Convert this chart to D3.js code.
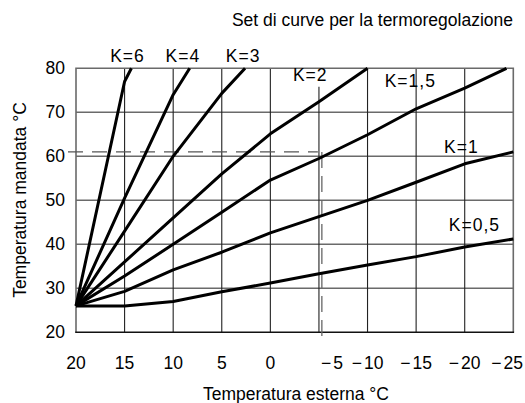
<!DOCTYPE html>
<html><head><meta charset="utf-8">
<script src="https://cdn.jsdelivr.net/npm/d3@7"></script>
<style>body{margin:0;background:#fff}svg{display:block;font-family:"Liberation Sans",Arial,sans-serif}</style>
</head><body><svg id="c" width="525" height="403"></svg>
<script>
// Data
const xTicks = [20, 15, 10, 5, 0, -5, -10, -15, -20, -25];
const yTicks = [20, 30, 40, 50, 60, 70, 80];
const curveK = ["K=0,5", "K=1", "K=1,5", "K=2", "K=3", "K=4", "K=6"];
const k05 = [[20,26],[15,26],[10,27],[5,29.2],[0,31.2],[-5,33.3],[-10,35.3],[-15,37.2],[-20,39.4],[-25,41.2]];
const k1  = [[20,26],[15,29.3],[10,34.2],[5,38.2],[0,42.6],[-5,46.3],[-10,50],[-15,54.1],[-20,58.3],[-25,61]];
const k15 = [[20,26],[15,32.8],[10,40],[5,47.3],[0,54.6],[-5,59.5],[-10,64.9],[-15,70.8],[-20,75.5],[-24.3,80]];
const k2  = [[20,26],[15,36],[10,46],[5,56],[0,65.1],[-5,72.4],[-10,80]];
const k3  = [[20,26],[15,43],[10,60],[5,74.3],[2.6,80]];
const k4  = [[20,26],[15,50.5],[10,74],[8.3,80]];
const k6  = [[20,26],[15,77],[14.3,80]];
// label anchor: [x value, y value]
const labelAt = [[-21,43],[-19.65,60.75],[-14.4,75.8],[-4.1,77.1],[2.8,81.5],[9.0,81.5],[14.7,81.5]];
const refX = -5.3, refY = 61;
const title = "Set di curve per la termoregolazione";
const xTitle = "Temperatura esterna °C";
const yTitle = "Temperatura mandata °C";

const series = [k05, k1, k15, k2, k3, k4, k6];
const svg = d3.select("#c");
const x = d3.scaleLinear().domain([20, -25]).range([76, 513.3]);
const y = d3.scaleLinear().domain([20, 80]).range([332.3, 68.3]);

// horizontal grid
svg.append("g").selectAll("line").data(yTicks.slice(1, -1)).join("line")
  .attr("x1", x(20)).attr("x2", x(-25)).attr("y1", d => y(d)).attr("y2", d => y(d))
  .attr("stroke", "#6a6a6a").attr("stroke-width", 1.6);
// vertical grid
svg.append("g").selectAll("line").data(xTicks.slice(1, -1)).join("line")
  .attr("x1", d => x(d)).attr("x2", d => x(d))
  .attr("y1", d => d === -5 ? y(75.8) : y(80)).attr("y2", y(20))
  .attr("stroke", "#222").attr("stroke-width", 1.1);
// frame
svg.append("path").attr("d", `M${x(20)},${y(20)}V${y(80)}H${x(-25)}V${y(20)}`)
  .attr("fill", "none").attr("stroke", "#6a6a6a").attr("stroke-width", 1.6);
svg.append("line").attr("x1", x(20) - 0.8).attr("x2", x(-25) + 0.8).attr("y1", y(20)).attr("y2", y(20))
  .attr("stroke", "#111").attr("stroke-width", 1.5);

// reference dashed lines
svg.append("line").attr("x1", x(20) - 8).attr("x2", x(refX) - 4).attr("y1", y(refY)).attr("y2", y(refY))
  .attr("stroke", "#555").attr("stroke-width", 1.3).attr("stroke-dasharray", "15,9");
svg.append("line").attr("x1", x(refX)).attr("x2", x(refX)).attr("y1", y(refY)).attr("y2", y(20) + 11)
  .attr("stroke", "#666").attr("stroke-width", 1.3).attr("stroke-dasharray", "16,8");

// curves
const line = d3.line().x(d => x(d[0])).y(d => y(d[1]));
svg.append("g").selectAll("path").data(series).join("path")
  .attr("d", line).attr("fill", "none").attr("stroke", "#000")
  .attr("stroke-width", 3).attr("stroke-linejoin", "round");

// curve labels
svg.append("g").selectAll("text").data(labelAt).join("text")
  .attr("x", d => x(d[0])).attr("y", d => y(d[1]))
  .attr("text-anchor", "middle").attr("font-size", 17.5).attr("letter-spacing", 1)
  .text((d, i) => curveK[i]);

// tick labels
svg.append("g").selectAll("text").data(yTicks).join("text")
  .attr("x", 65).attr("y", d => y(d) + 6).attr("text-anchor", "end").attr("font-size", 17.5)
  .text(d => d);
const xt = svg.append("g").selectAll("text").data(xTicks).join("text")
  .attr("x", d => d === -25 ? 523 : x(d) + (d === -5 ? 13 : 0))
  .attr("y", 368.5)
  .attr("text-anchor", d => d === -25 ? "end" : "middle").attr("font-size", 17.5);
xt.each(function (d) {
  const t = d3.select(this);
  if (d < 0) {
    t.append("tspan").text("\u2212");
    t.append("tspan").attr("dx", 2).text(Math.abs(d));
  } else t.text(d);
});

// titles
svg.append("text").attr("x", 513).attr("y", 26).attr("text-anchor", "end").attr("font-size", 17.5).text(title);
svg.append("text").attr("x", 296).attr("y", 400).attr("text-anchor", "middle").attr("font-size", 17.5).text(xTitle);
svg.append("text").attr("transform", "translate(26,200) rotate(-90)").attr("text-anchor", "middle")
  .attr("font-size", 17.5).text(yTitle);
</script></body></html>
